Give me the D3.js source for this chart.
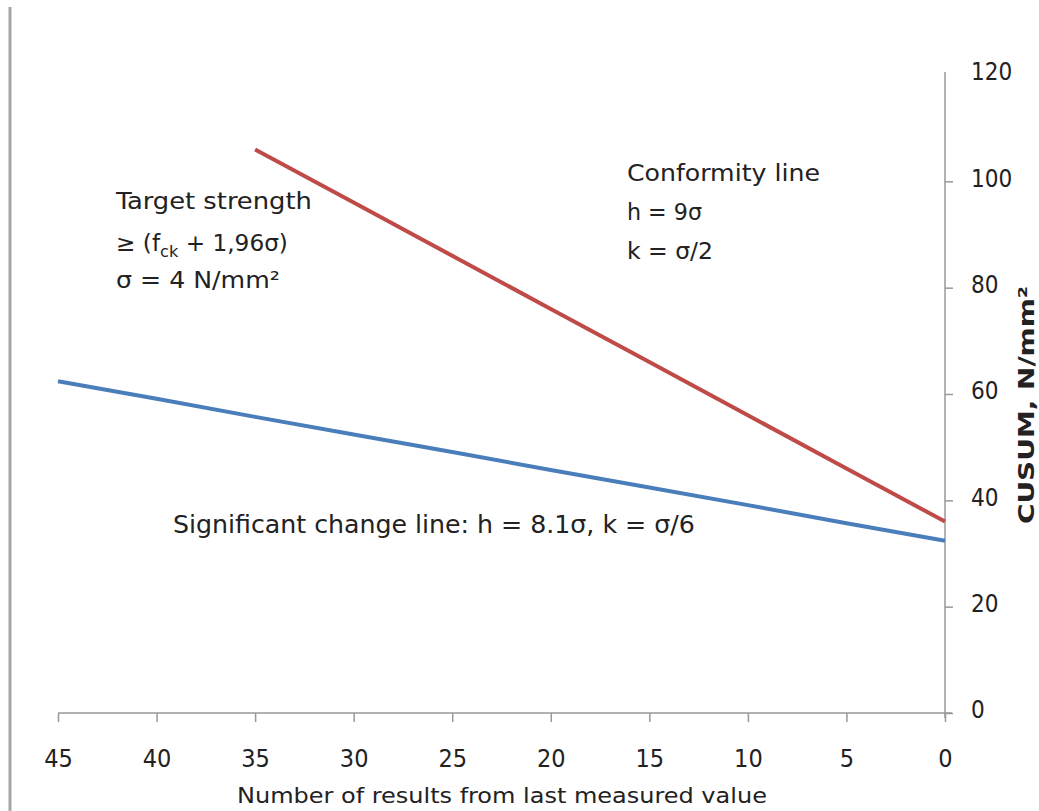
<!DOCTYPE html>
<html>
<head>
<meta charset="utf-8">
<script src="https://cdn.jsdelivr.net/npm/d3@7"></script>
<style>
  body { margin: 0; background: #fff; }
  svg text { font-family: "DejaVu Sans Condensed", "DejaVu Sans", sans-serif; fill: #222; }
</style>
</head>
<body>
<svg id="chart" width="1039" height="811"></svg>
<script>
// number of results from last measured value
var conformityN = [0, 5, 10, 15, 20, 25, 30, 35];
var conformityCusum = [36, 46, 56, 66, 76, 86, 96, 106];
var changeN = [0, 5, 10, 15, 20, 25, 30, 35, 40, 45];
var changeCusum = [32.4, 35.7, 39.1, 42.4, 45.7, 49.1, 52.4, 55.7, 59.1, 62.4];
var xTicks = [45, 40, 35, 30, 25, 20, 15, 10, 5, 0];
var yTicks = [0, 20, 40, 60, 80, 100, 120];

var svg = d3.select("#chart");

// frame line on the left
svg.append("line")
    .attr("x1", 10).attr("x2", 10)
    .attr("y1", 7).attr("y2", 811)
    .style("stroke", "#a6a6a6")
    .style("stroke-width", 3);

var x = d3.scaleLinear().domain([45, 0]).range([58, 945]);
var y = d3.scaleLinear().domain([0, 120]).range([713, 75]);

// axes
var xAxis = d3.axisBottom(x).tickValues(xTicks).tickSize(9).tickPadding(27);
var gx = svg.append("g")
    .attr("transform", "translate(0,713)")
    .call(xAxis);
gx.select(".domain").attr("d", "M58,0H952");

var yAxis = d3.axisRight(y).tickValues(yTicks).tickSize(8).tickPadding(18);
var gy = svg.append("g")
    .attr("transform", "translate(945,0)")
    .call(yAxis);
gy.select(".domain").attr("d", "M0,72V718");
gy.selectAll(".tick").filter(function(d){ return d === 120; }).select("line").remove();

svg.selectAll(".domain, .tick line").style("stroke", "#999").style("stroke-width", 1.5);
gx.selectAll(".tick text").style("font-size", "25px").style("fill", "#222");
gy.selectAll(".tick text").style("font-size", "24px").style("fill", "#222").attr("dy", "0.2em");

// lines
var lineConf = d3.line().x(function(d, i){ return x(conformityN[i]); }).y(function(d){ return y(d); });
var lineChange = d3.line().x(function(d, i){ return x(changeN[i]); }).y(function(d){ return y(d); });

svg.append("path")
    .datum(changeCusum)
    .attr("d", lineChange)
    .style("fill", "none")
    .style("stroke", "#4a7ebb")
    .style("stroke-width", 4);

svg.append("path")
    .datum(conformityCusum)
    .attr("d", lineConf)
    .style("fill", "none")
    .style("stroke", "#be4b48")
    .style("stroke-width", 4);

// text stretched to the width seen in the picture
function label(px, py, width, size, str, rotate) {
    var t = svg.append("text").style("font-size", size + "px");
    if (typeof str === "function") str(t); else t.text(str);
    var sx = width / t.node().getComputedTextLength();
    if (rotate) {
        t.attr("text-anchor", "middle")
         .attr("transform", "translate(" + px + "," + py + ") rotate(-90) scale(" + sx + ",1)");
    } else {
        t.attr("transform", "translate(" + px + "," + py + ") scale(" + sx + ",1)");
    }
    return t;
}

// axis titles
label(237, 803, 530, 21, "Number of results from last measured value");
label(1034, 405, 216, 21, "CUSUM, N/mm²", true).style("font-weight", "bold");

// annotations
label(116, 209, 196, 23, "Target strength");
label(116, 251, 172, 23, function(t) {
    t.append("tspan").text("≥ (f");
    t.append("tspan").attr("dy", 6).style("font-size", "16px").text("ck");
    t.append("tspan").attr("dy", -6).text(" + 1,96σ)");
});
label(116, 288, 164, 23, "σ = 4 N/mm²");

label(627, 181, 193, 23, "Conformity line");
label(627, 220, 75, 23, "h = 9σ");
label(627, 259, 86, 23, "k = σ/2");

label(173, 533, 522, 24, "Significant change line: h = 8.1σ, k = σ/6");
</script>
</body>
</html>
